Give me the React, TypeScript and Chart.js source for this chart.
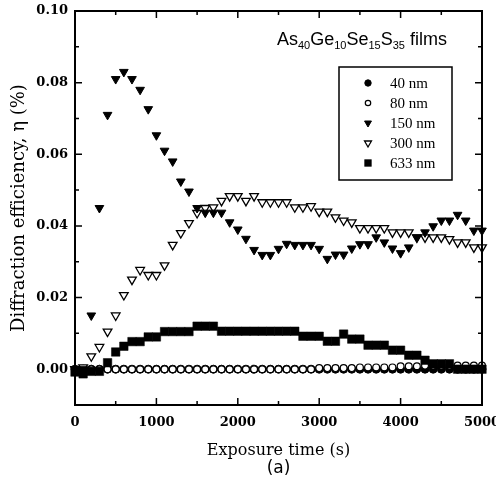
import React, { useEffect, useRef } from "react";
import { Chart, registerables } from "chart.js";
import { drawPoint } from "chart.js/helpers";

Chart.register(...registerables);

// ---------------- data ----------------
const TIMES = [
  0, 100, 200, 300, 400, 500, 600, 700, 800, 900,
  1000, 1100, 1200, 1300, 1400, 1500, 1600, 1700, 1800, 1900,
  2000, 2100, 2200, 2300, 2400, 2500, 2600, 2700, 2800, 2900,
  3000, 3100, 3200, 3300, 3400, 3500, 3600, 3700, 3800, 3900,
  4000, 4100, 4200, 4300, 4400, 4500, 4600, 4700, 4800, 4900, 5000,
];

const S40 = [
  0, 0, 0, 0, 0, 0, 0, 0, 0, 0,
  0, 0, 0, 0, 0, 0, 0, 0, 0, 0,
  0, 0, 0, 0, 0, 0, 0, 0, 0, 0,
  0, 0, 0, 0, 0, 0, 0, 0, 0, 0,
  0, 0, 0, 0, 0, 0, 0, 0, 0, 0, 0,
];

const S80 = [
  null, 0, 0, 0, 0, 0, 0, 0, 0, 0,
  0, 0, 0, 0, 0, 0, 0, 0, 0, 0,
  0, 0, 0, 0, 0, 0, 0, 0, 0, 0,
  0.0003, 0.0003, 0.0003, 0.0003, 0.0003, 0.0005, 0.0005, 0.0005, 0.0005, 0.0005,
  0.0008, 0.0008, 0.0008, 0.001, 0.001, 0.001, 0.001, 0.001, 0.001, 0.001, 0.001,
];

const S150 = [
  0.0, 0.0, 0.015, 0.045, 0.071, 0.081, 0.083, 0.081, 0.078, 0.0726,
  0.0653, 0.061, 0.058, 0.0524, 0.0496, 0.045, 0.0437, 0.0437, 0.0437, 0.041,
  0.039, 0.0364, 0.0333, 0.0319, 0.0319, 0.0336, 0.035, 0.0347, 0.0347, 0.0347,
  0.0336, 0.0308, 0.032, 0.032, 0.0337, 0.0349, 0.0349, 0.0368, 0.0354, 0.0337,
  0.0324, 0.034, 0.0368, 0.0382, 0.0399, 0.0415, 0.0415, 0.0431, 0.0415, 0.0387, 0.0387,
];

const S300 = [
  0.0, 0.0005, 0.0036, 0.0062, 0.0105, 0.015, 0.0207, 0.025, 0.0277, 0.0263,
  0.0263, 0.029, 0.0347, 0.038, 0.0408, 0.0436, 0.045, 0.0452, 0.047, 0.0483,
  0.0483, 0.047, 0.0483, 0.0466, 0.0466, 0.0466, 0.0466, 0.0452, 0.0452, 0.0455,
  0.044, 0.044, 0.0424, 0.0415, 0.041, 0.0394, 0.0394, 0.0394, 0.0394, 0.0382,
  0.0382, 0.0382, 0.0368, 0.0368, 0.0368, 0.0368, 0.0363, 0.0354, 0.0354, 0.034, 0.034,
];

const S633 = [
  -0.0008, -0.0013, -0.0006, -0.0006, 0.0018, 0.0048, 0.0064, 0.0077, 0.0077, 0.009,
  0.009, 0.0105, 0.0105, 0.0105, 0.0105, 0.012, 0.012, 0.012, 0.0106, 0.0106,
  0.0106, 0.0106, 0.0106, 0.0106, 0.0106, 0.0106, 0.0106, 0.0106, 0.0092, 0.0092,
  0.0092, 0.0078, 0.0078, 0.0098, 0.0084, 0.0084, 0.0067, 0.0067, 0.0067, 0.0053,
  0.0053, 0.0039, 0.0039, 0.0025, 0.0015, 0.0015, 0.0015, 0.0, 0.0, 0.0, 0.0,
];

const SERIES_LABELS = ["40 nm", "80 nm", "150 nm", "300 nm", "633 nm"];

const X_MAJOR = [0, 1000, 2000, 3000, 4000, 5000];
const X_MINOR = [500, 1500, 2500, 3500, 4500];
const Y_MAJOR = [0, 0.02, 0.04, 0.06, 0.08, 0.1];
const Y_MINOR = [-0.01, 0.01, 0.03, 0.05, 0.07, 0.09];

const TITLE_PARTS: [string, boolean][] = [
  ["As", false], ["40", true], ["Ge", false], ["10", true],
  ["Se", false], ["15", true], ["S", false], ["35", true], [" films", false],
];

// ---------------- helpers ----------------
const toPoints = (arr: (number | null)[]) =>
  TIMES.map((t, i) => ({ x: t, y: arr[i] })).filter((p) => p.y !== null);

const SERIF = "'DejaVu Serif', serif";

const STYLES = [
  { pointStyle: "circle", radius: 4, rotation: 0, bg: "#000", border: "#000", bw: 1, order: 5 },
  { pointStyle: "circle", radius: 3.4, rotation: 0, bg: "#fff", border: "#000", bw: 1.2, order: 4 },
  { pointStyle: "triangle", radius: 5, rotation: 180, bg: "#000", border: "#000", bw: 1, order: 1 },
  { pointStyle: "triangle", radius: 5, rotation: 180, bg: "#fff", border: "#000", bw: 1.3, order: 2 },
  { pointStyle: "rect", radius: 6, rotation: 0, bg: "#000", border: "#000", bw: 0.5, order: 3 },
];

const framePlugin = {
  id: "frameTicks",
  afterDraw(chart: any) {
    const { ctx, chartArea: a, scales } = chart;
    const xs = scales.x;
    const ys = scales.y;
    ctx.save();
    ctx.strokeStyle = "#000";
    ctx.lineWidth = 2;
    ctx.strokeRect(a.left, a.top, a.right - a.left, a.bottom - a.top);
    ctx.lineWidth = 1.5;
    ctx.beginPath();
    const xt = (v: number, len: number) => {
      const p = xs.getPixelForValue(v);
      ctx.moveTo(p, a.bottom);
      ctx.lineTo(p, a.bottom - len);
      ctx.moveTo(p, a.top);
      ctx.lineTo(p, a.top + len);
    };
    const yt = (v: number, len: number) => {
      const p = ys.getPixelForValue(v);
      ctx.moveTo(a.left, p);
      ctx.lineTo(a.left + len, p);
      ctx.moveTo(a.right, p);
      ctx.lineTo(a.right - len, p);
    };
    X_MAJOR.forEach((v) => xt(v, 7));
    X_MINOR.forEach((v) => xt(v, 4));
    Y_MAJOR.forEach((v) => yt(v, 7));
    Y_MINOR.forEach((v) => yt(v, 4));
    ctx.stroke();

    // legend box
    const bx = 339, by = 67, bw = 113, bh = 113;
    ctx.lineWidth = 1.5;
    ctx.strokeRect(bx, by, bw, bh);
    SERIES_LABELS.forEach((lab, i) => {
      const s = STYLES[i];
      const cy = 83 + i * 20;
      ctx.fillStyle = s.bg;
      ctx.strokeStyle = s.border;
      ctx.lineWidth = s.bw;
      drawPoint(ctx, {
        pointStyle: s.pointStyle,
        radius: s.radius * 0.8,
        rotation: s.rotation,
        borderWidth: s.bw,
      } as any, 368, cy);
      ctx.fillStyle = "#000";
      ctx.font = "15px 'Liberation Serif', serif";
      ctx.textAlign = "left";
      ctx.textBaseline = "middle";
      ctx.fillText(lab, 390, cy + 1);
    });

    // composition title
    let x = 277;
    const base = 45;
    ctx.textBaseline = "alphabetic";
    TITLE_PARTS.forEach(([txt, sub]) => {
      ctx.font = sub ? "11px 'Liberation Sans', sans-serif" : "18px 'Liberation Sans', sans-serif";
      ctx.fillStyle = "#000";
      ctx.fillText(txt, x, sub ? base + 4 : base);
      x += ctx.measureText(txt).width;
    });

    // panel label
    ctx.font = "17px 'DejaVu Sans', sans-serif";
    ctx.textAlign = "center";
    ctx.textBaseline = "middle";
    ctx.fillText("(a)", (a.left + a.right) / 2, 469);
    ctx.restore();
  },
};

export default function App() {
  const ref = useRef<HTMLCanvasElement | null>(null);
  useEffect(() => {
    if (!ref.current) return;
    const seriesData = [S40, S80, S150, S300, S633];
    const chart = new Chart(ref.current, {
      type: "scatter",
      data: {
        datasets: seriesData.map((arr, i) => ({
          label: SERIES_LABELS[i],
          data: toPoints(arr),
          showLine: false,
          pointStyle: STYLES[i].pointStyle as any,
          pointRadius: STYLES[i].radius,
          pointRotation: STYLES[i].rotation,
          pointBackgroundColor: STYLES[i].bg,
          pointBorderColor: STYLES[i].border,
          pointBorderWidth: STYLES[i].bw,
          order: STYLES[i].order,
          clip: false as any,
        })),
      },
      options: {
        responsive: false,
        animation: false,
        devicePixelRatio: 1,
        layout: { padding: { top: 11, right: 14, left: 0, bottom: 0 } },
        plugins: { legend: { display: false }, tooltip: { enabled: false } },
        scales: {
          x: {
            type: "linear",
            min: 0,
            max: 5000,
            grid: { display: false, drawTicks: false },
            border: { display: false },
            ticks: {
              stepSize: 500,
              autoSkip: false,
              maxRotation: 0,
              padding: 10,
              color: "#000",
              font: { family: SERIF, size: 13, weight: "bold" },
              callback: (v: any) => (Math.round(v) % 1000 === 0 ? String(Math.round(v)) : ""),
            },
            title: {
              display: true,
              text: "Exposure time (s)",
              color: "#000",
              font: { family: SERIF, size: 16 },
              padding: { top: 0, bottom: 30 },
            },
            afterFit: (s: any) => {
              s.height = 85;
              s.paddingLeft = 0;
              s.paddingRight = 0;
            },
          },
          y: {
            min: -0.01,
            max: 0.1,
            grid: { display: false, drawTicks: false },
            border: { display: false },
            ticks: {
              stepSize: 0.01,
              autoSkip: false,
              padding: 7,
              color: "#000",
              font: { family: SERIF, size: 13, weight: "bold" },
              callback: (v: any) => {
                const k = Math.round(v * 100);
                return k >= 0 && k % 2 === 0 ? (k / 100).toFixed(2) : "";
              },
            },
            title: {
              display: true,
              text: "Diffraction efficiency, η (%)",
              color: "#000",
              font: { family: SERIF, size: 18 },
              padding: { top: 9, bottom: 0 },
            },
            afterFit: (s: any) => {
              s.width = 75;
              s.paddingTop = 0;
              s.paddingBottom = 0;
            },
          },
        },
      },
      plugins: [framePlugin],
    });
    return () => chart.destroy();
  }, []);
  return (
    <div style={{ position: "absolute", left: 0, top: 0, width: 496, height: 490, background: "#fff" }}>
      <canvas ref={ref} width={496} height={490} style={{ display: "block" }} />
    </div>
  );
}
